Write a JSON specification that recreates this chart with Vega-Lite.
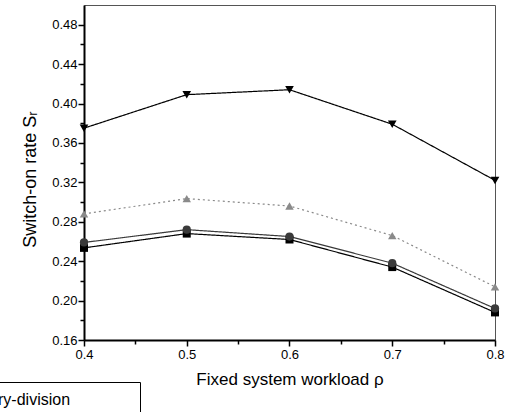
{
  "$schema": "https://vega.github.io/schema/vega-lite/v6.json",
  "width": 411,
  "height": 335,
  "autosize": "none",
  "padding": {"left": 84, "top": 5, "right": 14, "bottom": 72},
  "background": "white",
  "data": {
    "values": [
      {"rho": 0.4, "series": "Binary-division", "sr": 0.2535},
      {"rho": 0.5, "series": "Binary-division", "sr": 0.268},
      {"rho": 0.6, "series": "Binary-division", "sr": 0.262},
      {"rho": 0.7, "series": "Binary-division", "sr": 0.234},
      {"rho": 0.8, "series": "Binary-division", "sr": 0.188},
      {"rho": 0.4, "series": "Equal-division", "sr": 0.259},
      {"rho": 0.5, "series": "Equal-division", "sr": 0.272},
      {"rho": 0.6, "series": "Equal-division", "sr": 0.265},
      {"rho": 0.7, "series": "Equal-division", "sr": 0.238},
      {"rho": 0.8, "series": "Equal-division", "sr": 0.192},
      {"rho": 0.4, "series": "Random-division", "sr": 0.288},
      {"rho": 0.5, "series": "Random-division", "sr": 0.3035},
      {"rho": 0.6, "series": "Random-division", "sr": 0.296},
      {"rho": 0.7, "series": "Random-division", "sr": 0.266},
      {"rho": 0.8, "series": "Random-division", "sr": 0.214},
      {"rho": 0.4, "series": "Load-balanced division", "sr": 0.375},
      {"rho": 0.5, "series": "Load-balanced division", "sr": 0.409},
      {"rho": 0.6, "series": "Load-balanced division", "sr": 0.414},
      {"rho": 0.7, "series": "Load-balanced division", "sr": 0.379},
      {"rho": 0.8, "series": "Load-balanced division", "sr": 0.322}
    ]
  },
  "layer": [
    {
      "mark": {"type": "line", "strokeWidth": 1.2},
      "encoding": {
        "x": {
          "field": "rho", "type": "quantitative",
          "scale": {"domain": [0.4, 0.8], "nice": false, "zero": false},
          "axis": {"orient": "bottom", "values": [0.4, 0.5, 0.6, 0.7, 0.8], "format": ".1f", "title": "Fixed system workload ρ", "titlePadding": 10, "tickSize": 6, "labelPadding": 2, "labelFlush": false}
        },
        "y": {
          "field": "sr", "type": "quantitative",
          "scale": {"domain": [0.16, 0.5], "nice": false, "zero": false},
          "axis": {"orient": "left", "values": [0.16, 0.2, 0.24, 0.28, 0.32, 0.36, 0.4, 0.44, 0.48], "format": ".2f", "title": "Switch-on rate Sᵣ", "titlePadding": 12, "titleY": 174, "titleFontSize": 18, "tickSize": 6, "labelPadding": 1, "labelFlush": false}
        },
        "color": {
          "field": "series", "type": "nominal",
          "scale": {"domain": ["Binary-division", "Equal-division", "Random-division", "Load-balanced division"], "range": ["#000000", "#3a3a3a", "#8a8a8a", "#000000"]},
          "legend": {"orient": "none", "legendX": -150, "legendY": 377, "title": null, "direction": "vertical"}
        },
        "strokeDash": {
          "field": "series", "type": "nominal",
          "scale": {"domain": ["Binary-division", "Equal-division", "Random-division", "Load-balanced division"], "range": [[1, 0], [1, 0], [2, 3], [1, 0]]},
          "legend": {"orient": "none", "legendX": -150, "legendY": 377, "title": null}
        }
      }
    },
    {
      "mark": {"type": "point", "filled": true, "opacity": 1},
      "encoding": {
        "x": {"field": "rho", "type": "quantitative", "axis": null},
        "y": {"field": "sr", "type": "quantitative", "axis": null},
        "color": {"field": "series", "type": "nominal", "legend": {"orient": "none", "legendX": -150, "legendY": 377, "title": null}},
        "shape": {
          "field": "series", "type": "nominal",
          "scale": {"domain": ["Binary-division", "Equal-division", "Random-division", "Load-balanced division"], "range": ["square", "circle", "triangle-up", "triangle-down"]},
          "legend": {"orient": "none", "legendX": -150, "legendY": 377, "title": null}
        },
        "size": {
          "field": "series", "type": "nominal",
          "scale": {"domain": ["Binary-division", "Equal-division", "Random-division", "Load-balanced division"], "range": [64, 75, 130, 160]},
          "legend": null
        }
      }
    },
    {
      "mark": {"type": "point", "opacity": 0},
      "encoding": {
        "x": {"field": "rho", "type": "quantitative", "axis": {"orient": "bottom", "values": [0.45, 0.55, 0.65, 0.75], "labels": false, "domain": false, "tickSize": 4, "title": null}},
        "y": {"field": "sr", "type": "quantitative", "axis": {"orient": "left", "values": [0.18, 0.22, 0.26, 0.3, 0.34, 0.38, 0.42, 0.46], "labels": false, "domain": false, "tickSize": 4, "title": null}}
      }
    }
  ],
  "resolve": {"axis": {"x": "independent", "y": "independent"}},
  "config": {
    "view": {"stroke": "#555555", "strokeWidth": 1},
    "font": "Liberation Sans",
    "axis": {
      "grid": false,
      "domainColor": "#000000",
      "domainWidth": 2,
      "tickColor": "#000000",
      "tickWidth": 1.5,
      "labelFont": "Liberation Sans",
      "labelFontSize": 13,
      "labelColor": "#000000",
      "titleFont": "Liberation Sans",
      "titleFontSize": 17,
      "titleFontWeight": "normal",
      "titleColor": "#000000"
    },
    "legend": {
      "labelFont": "Liberation Sans",
      "labelFontSize": 16,
      "labelColor": "#000000",
      "labelLimit": 400,
      "strokeColor": "#000000",
      "padding": 10,
      "labelOffset": 6,
      "symbolSize": 80,
      "rowPadding": 26
    }
  }
}
